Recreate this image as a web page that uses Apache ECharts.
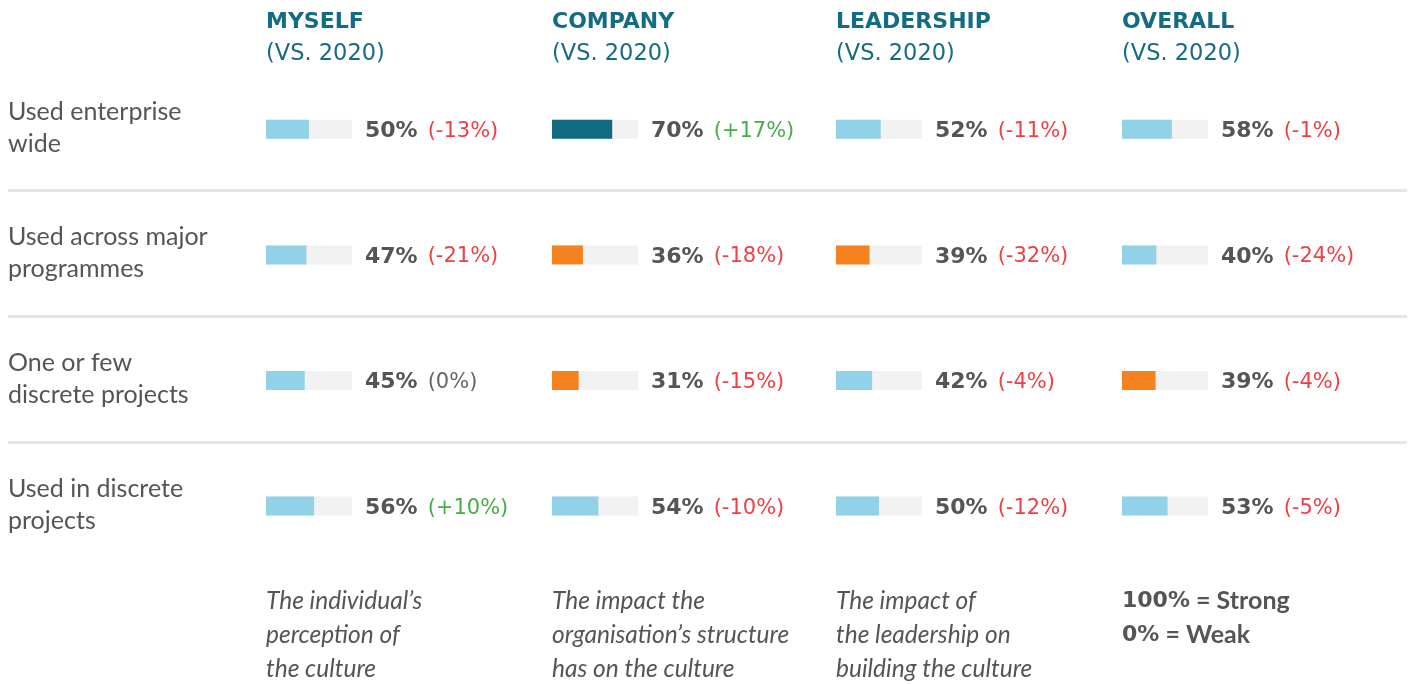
<!DOCTYPE html>
<html>
<head>
<meta charset="utf-8">
<script src="https://cdn.jsdelivr.net/npm/echarts@6/dist/echarts.min.js"></script>
<style>
  html, body { margin: 0; padding: 0; background: #fff; }
  #chart { width: 1410px; height: 684px; }
</style>
</head>
<body>
<div id="chart"></div>
<script>
// 行标签
const rows = ['Used enterprise\nwide', 'Used across major\nprogrammes', 'One or few\ndiscrete projects', 'Used in discrete\nprojects'];
// 列标题
const columns = ['MYSELF', 'COMPANY', 'LEADERSHIP', 'OVERALL'];
const subTitle = '(VS. 2020)';

// 每列的得分 (%)
const myself = [50, 47, 45, 56];
const company = [70, 36, 31, 54];
const leadership = [52, 39, 42, 50];
const overall = [58, 40, 39, 53];

// 与2020年相比的变化 (%)
const myselfChange = [-13, -21, 0, 10];
const companyChange = [17, -18, -15, -10];
const leadershipChange = [-11, -32, -4, -12];
const overallChange = [-1, -24, -4, -5];

// 高亮标记: high = 最强, low = 偏弱
const myselfFlag = ['', '', '', ''];
const companyFlag = ['high', 'low', 'low', ''];
const leadershipFlag = ['', 'low', '', ''];
const overallFlag = ['', '', 'low', ''];

// 列下方说明
const notes = [
  'The individual’s\nperception of\nthe culture',
  'The impact the\norganisation’s structure\nhas on the culture',
  'The impact of\nthe leadership on\nbuilding the culture'
];
const scaleNote = ['100%', ' = Strong', '0%', ' = Weak'];

const values = [myself, company, leadership, overall];
const changes = [myselfChange, companyChange, leadershipChange, overallChange];
const flags = [myselfFlag, companyFlag, leadershipFlag, overallFlag];

const colX = [266, 552, 836, 1122];
const barColor = { '': '#91d2e8', high: '#0f6a82', low: '#f5821f' };
const teal = '#136b84';
const textGrey = '#555555';

const grids = [];
const xAxes = [];
const yAxes = [];
const series = [];
const titles = [];

// 背景网格: 行标签 + 分隔线
grids.push({ left: 8, right: 3, top: 65, height: 502.4 });
xAxes.push({ gridIndex: 0, type: 'value', show: false, min: 0, max: 100 });
yAxes.push({
  gridIndex: 0,
  type: 'category',
  inverse: true,
  data: rows,
  axisLine: { show: false },
  axisTick: { show: false },
  axisLabel: {
    inside: true,
    margin: 0,
    align: 'left',
    color: textGrey,
    fontFamily: 'Lato',
    fontSize: 25,
    lineHeight: 32
  },
  splitLine: {
    show: true,
    showMinLine: false,
    showMaxLine: false,
    lineStyle: { color: '#e6e6e6', width: 3 }
  }
});

columns.forEach(function (name, c) {
  const g = c + 1;
  grids.push({ left: colX[c], width: 86, top: 66.5, height: 502.4 });
  xAxes.push({ gridIndex: g, type: 'value', show: false, min: 0, max: 100 });
  yAxes.push({ gridIndex: g, type: 'category', show: false, inverse: true, data: rows });

  // 灰色底条 + 右侧数值标签
  series.push({
    type: 'bar',
    xAxisIndex: g,
    yAxisIndex: g,
    barWidth: 19,
    barGap: '-100%',
    silent: true,
    itemStyle: { color: '#f2f2f2' },
    data: rows.map(function () { return 100; }),
    label: {
      show: true,
      position: 'right',
      distance: 13,
      offset: [0, 2],
      formatter: function (p) {
        const v = values[c][p.dataIndex];
        const d = changes[c][p.dataIndex];
        const cls = d > 0 ? 'pos' : (d < 0 ? 'neg' : 'zero');
        const txt = d > 0 ? '+' + d : String(d);
        return '{v|' + v + '%}{' + cls + '|(' + txt + '%)}';
      },
      rich: {
        v: { fontFamily: 'DejaVu Sans', fontWeight: 'bold', fontSize: 22, color: textGrey },
        neg: { fontFamily: 'DejaVu Sans', fontWeight: 'normal', fontSize: 21, color: '#ef3f44', padding: [0, 0, 0, 10] },
        pos: { fontFamily: 'DejaVu Sans', fontWeight: 'normal', fontSize: 21, color: '#46ad46', padding: [0, 0, 0, 10] },
        zero: { fontFamily: 'DejaVu Sans', fontWeight: 'normal', fontSize: 21, color: '#666666', padding: [0, 0, 0, 10] }
      }
    }
  });

  // 得分条
  series.push({
    type: 'bar',
    xAxisIndex: g,
    yAxisIndex: g,
    barWidth: 19,
    barGap: '-100%',
    data: values[c].map(function (v, i) {
      return { value: v, itemStyle: { color: barColor[flags[c][i]] } };
    })
  });

  // 列标题
  titles.push({
    left: colX[c],
    top: 6,
    padding: 0,
    text: '{h|' + name + '}\n{s|' + subTitle + '}',
    textStyle: {
      fontWeight: 'normal',
      rich: {
        h: { fontFamily: 'DejaVu Sans', fontWeight: 'bold', fontSize: 22, color: teal, lineHeight: 32 },
        s: { fontFamily: 'DejaVu Sans', fontWeight: 'normal', fontSize: 22.5, color: teal, lineHeight: 32 }
      }
    }
  });
});

// 说明文字
notes.forEach(function (t, c) {
  titles.push({
    left: colX[c],
    top: 584,
    padding: 0,
    text: t,
    textStyle: {
      fontFamily: 'Lato',
      fontStyle: 'italic',
      fontWeight: 'normal',
      fontSize: 24.5,
      lineHeight: 34,
      color: textGrey
    }
  });
});

titles.push({
  left: colX[3],
  top: 584,
  padding: 0,
  text: '{b|' + scaleNote[0] + '}{r|' + scaleNote[1] + '}\n{b|' + scaleNote[2] + '}{r|' + scaleNote[3] + '}',
  textStyle: {
    rich: {
      b: { fontFamily: 'DejaVu Sans', fontWeight: 'bold', fontSize: 22, color: textGrey, lineHeight: 34 },
      r: { fontFamily: 'Lato', fontWeight: 'bold', fontSize: 25, color: textGrey, lineHeight: 34 }
    }
  }
});

const myChart = echarts.init(document.getElementById('chart'));
myChart.setOption({
  animation: false,
  title: titles,
  grid: grids,
  xAxis: xAxes,
  yAxis: yAxes,
  series: series
});
</script>
</body>
</html>
